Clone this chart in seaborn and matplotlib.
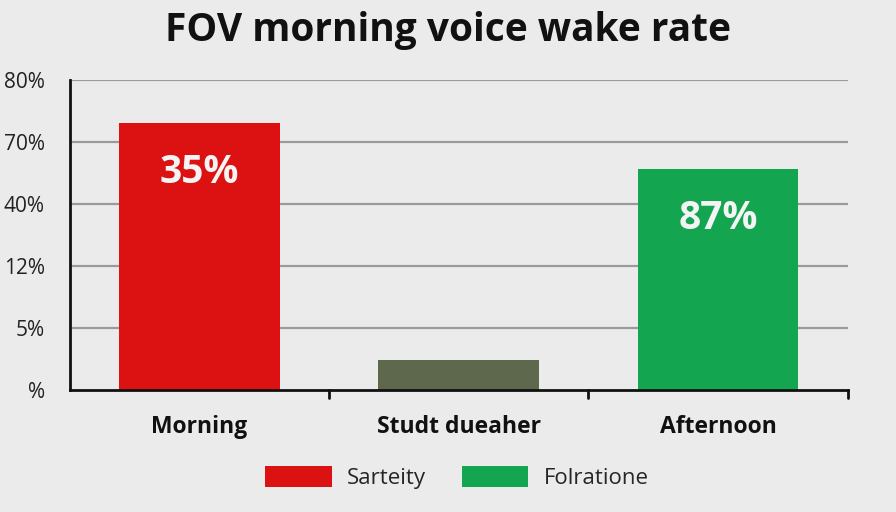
import matplotlib
matplotlib.use("Agg")
import matplotlib.pyplot as plt
import seaborn as sns
import pandas as pd
from matplotlib.patches import Patch

# data (bar heights in gridline steps)
categories = ["Morning", "Studt dueaher", "Afternoon"]
values = [4.3, 0.48, 3.56]
bar_labels = ["35%", "", "87%"]
bar_colors = ["#dc1212", "#5e684c", "#13a550"]
tick_labels = ["%", "5%", "12%", "40%", "70%", "80%"]
legend_names = ["Sarteity", "Folratione"]
legend_colors = ["#dc1212", "#13a550"]

bg = "#ebebeb"
sns.set_theme(style="white")
plt.rcParams["font.family"] = ["Open Sans", "DejaVu Sans"]

df = pd.DataFrame({"cat": categories, "val": values})

fig = plt.figure(figsize=(8.96, 5.12), dpi=100, facecolor=bg)
ax = fig.add_axes([0.078, 0.238, 0.868, 0.606], facecolor=bg)

sns.barplot(data=df, x="cat", y="val", hue="cat", palette=bar_colors,
            width=0.62, legend=False, ax=ax, saturation=1, zorder=3,
            linewidth=0)

for i, (v, lab) in enumerate(zip(values, bar_labels)):
    if lab:
        ax.text(i, v - 0.8, lab, ha="center", va="center", color="#f4f4f4",
                fontsize=28, fontweight="bold", zorder=4)

# gridlines
ax.set_ylim(0, 5)
ax.set_yticks(range(len(tick_labels)))
ax.set_yticklabels(tick_labels, fontsize=15, color="#222222")
for y in range(1, len(tick_labels)):
    ax.axhline(y, color="#9a9a9a", lw=1.6, zorder=1)
ax.tick_params(axis="y", length=10, width=2, color="#111111", pad=8)

ax.set_xlim(-0.5, 2.5)
ax.set_xticks([0, 1, 2])
ax.set_xticklabels(categories, fontsize=16.5, fontweight="bold", color="#111111")
ax.tick_params(axis="x", length=0, pad=18)
for xm in [0.5, 1.5, 2.5]:
    ax.plot([xm, xm], [0, -0.13], color="#111111", lw=2, clip_on=False, zorder=5)

ax.set_xlabel("")
ax.set_ylabel("")
for s in ["top", "right"]:
    ax.spines[s].set_visible(False)
for s in ["left", "bottom"]:
    ax.spines[s].set_color("#111111")
    ax.spines[s].set_linewidth(2)
    ax.spines[s].set_zorder(6)

fig.text(0.5, 0.94, "FOV morning voice wake rate", ha="center", va="center",
         fontsize=28, fontweight="bold", color="#111111")

handles = [Patch(facecolor=c, edgecolor="none") for c in legend_colors]
fig.legend(handles, legend_names, loc="center", bbox_to_anchor=(0.51, 0.068),
           ncol=2, frameon=False, fontsize=16, handlelength=3.0,
           handleheight=1.1, handletextpad=0.7, columnspacing=1.6)

fig.savefig("out.png", dpi=100, facecolor=bg)
